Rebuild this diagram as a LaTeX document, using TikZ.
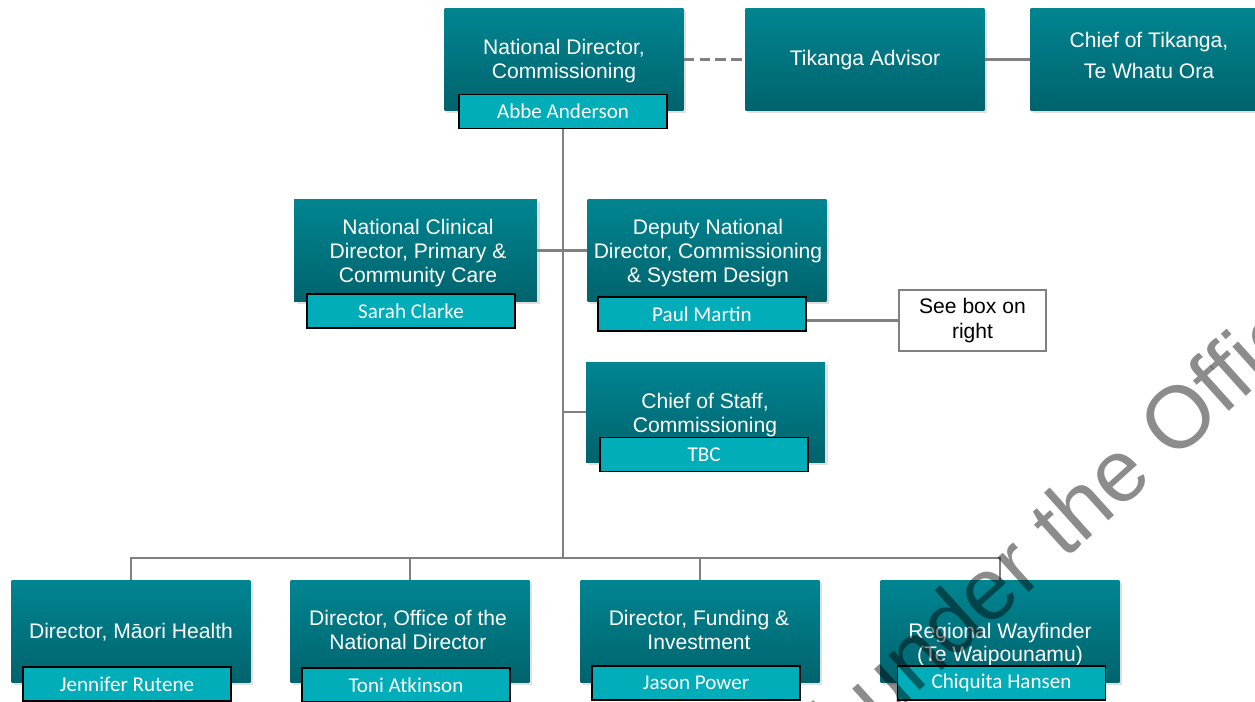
\documentclass[tikz,border=0pt]{standalone}
\usepackage{fontspec}
\setmainfont{Liberation Sans}
\newfontfamily\namefont{Carlito}
\usetikzlibrary{calc,shadows}
\definecolor{boxtop}{RGB}{0,133,145}
\definecolor{boxbot}{RGB}{0,99,109}
\definecolor{tabfill}{RGB}{0,173,185}
\definecolor{linegray}{RGB}{128,128,128}
\tikzset{
	rolebox/.style={rectangle, top color=boxtop, bottom color=boxbot, minimum width=4.78cm, minimum height=2.04cm, inner sep=0pt, drop shadow={opacity=0.25, shadow xshift=1.5pt, shadow yshift=-1.5pt}},
	roletext/.style={text=white, align=center, font=\fontsize{12}{13.6}\selectfont, inner sep=0pt},
	nametab/.style={rectangle, draw=black, line width=1.1pt, fill=tabfill, text=white, font=\namefont\fontsize{12}{14}\selectfont, minimum width=4.16cm, minimum height=0.68cm, inner sep=0pt},
	link/.style={draw=linegray, line width=1.2pt},
}

\begin{document}
\begin{tikzpicture}[x=0.02cm, y=-0.02cm]
			%%%%% START %%%%%
			\useasboundingbox (0,0) rectangle (1255,701);
			\clip (0,0) rectangle (1255,701);
			
			% top row
			\node[rolebox] (ndc) at (564,59.5) {};
			\node[roletext] (ndct) at (564,61) {National Director,\\Commissioning};
			\node[nametab] (abbe) at (563,111.5) {Abbe Anderson};
			
			\node[rolebox] (tika) at (865,59.5) {};
			\node[roletext] (tikat) at (865,60) {Tikanga Advisor};
			
			\node[rolebox] (chief) at (1150,59.5) {};
			\node[roletext] (chieft) at (1149,55.5) {Chief of Tikanga,\\[4pt]Te Whatu Ora};
			
			\draw[link, dash pattern=on 6pt off 3pt] (ndc.east) -- (tika.west);
			\draw[link] (tika.east) -- (chief.west);
			
			% second row
			\node[rolebox, minimum width=4.86cm] (ncd) at (415.5,250.5) {};
			\node[roletext] (ncdt) at (418,253) {National Clinical\\Director, Primary \&\\Community Care};
			\node[nametab] (sarah) at (411,311) {Sarah Clarke};
			
			\node[rolebox] (dnd) at (707,250.5) {};
			\node[roletext] (dndt) at (708,253) {Deputy National\\Director, Commissioning\\\& System Design};
			\node[nametab] (paul) at (702,314) {Paul Martin};
			
			\node[draw=linegray, line width=1.2pt, fill=white, align=center, minimum width=2.94cm, minimum height=1.22cm, inner sep=0pt, font=\fontsize{12}{14.2}\selectfont] (see) at (972.5,320.5) {See box on\\right};
			
			% third row
			\node[rolebox, minimum height=2cm] (cos) at (705.5,412) {};
			\node[roletext] (cost) at (705,415) {Chief of Staff,\\Commissioning};
			\node[nametab] (tbc) at (704,454.5) {TBC};
			
			% bottom row
			\node[rolebox] (mh) at (131,631.5) {};
			\node[roletext] (mht) at (131,632) {Director, M\=aori Health};
			\node[nametab] (jen) at (127,684) {Jennifer Rutene};
			
			\node[rolebox] (ond) at (410,631.5) {};
			\node[roletext] (ondt) at (408,630) {Director, Office of the\\National Director};
			\node[nametab] (toni) at (406,685) {Toni Atkinson};
			
			\node[rolebox] (fi) at (700,631.5) {};
			\node[roletext] (fit) at (699,630) {Director, Funding \&\\Investment};
			\node[nametab] (jason) at (696,683) {Jason Power};
			
			\node[rolebox] (rw) at (1000,631.5) {};
			\node[roletext] (rwt) at (1000,644.5) {Regional Wayfinder\\(Te Waipounamu)};
			\node[nametab] (chiq) at (1001.5,683) {Chiquita Hansen};
			
			% reporting lines
			\coordinate (bus) at (563,558);
			\draw[link] (abbe.south) -- (bus);
			\draw[link] (ncd.east) -- (dnd.west);
			\draw[link] (cos.west) -- (cos.west -| abbe.south);
			\draw[link] (paul.east |- see.west) -- (see.west);
			\draw[link] (mh.north) |- (bus) -| (rw.north);
			\draw[link] (ond.north) -- (ond.north |- bus);
			\draw[link] (fi.north) -- (fi.north |- bus);
			
			% stamp
			\node[rotate=42, anchor=base west, text=black, opacity=0.45, inner sep=0pt, font=\fontsize{50}{60}\selectfont] (stamp) at (585,992) {Released under the Official Information Act};
			
			%%%%% END %%%%%
		\end{tikzpicture}
\end{document}
